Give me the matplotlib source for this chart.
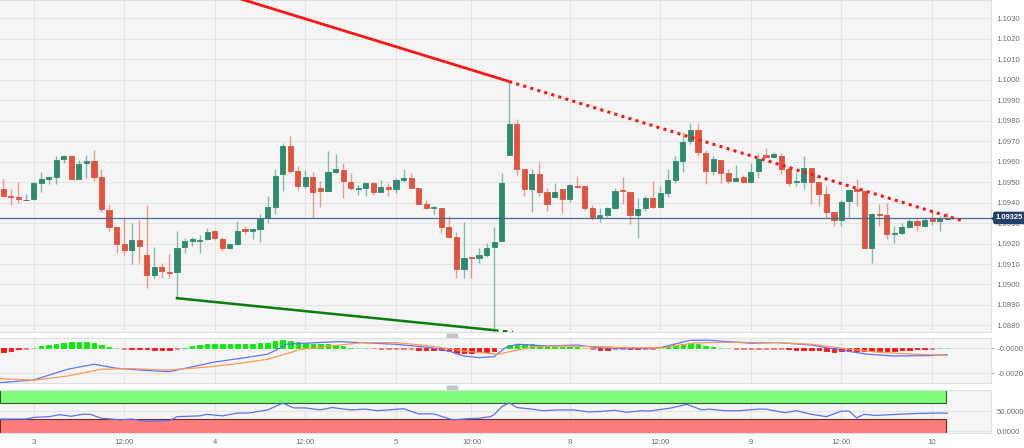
import numpy as np
import matplotlib
matplotlib.use('Agg')
import matplotlib.pyplot as plt
from matplotlib.patches import Rectangle, FancyBboxPatch

plt.rcParams['font.family'] = ['Liberation Sans', 'DejaVu Sans']

# hourly EUR/USD candles
opens = [1.09465, 1.09432, 1.09429, 1.09414, 1.09416, 1.09494, 1.09515, 1.09526, 1.09611, 1.09628,
         1.09514, 1.09592, 1.09605, 1.09526, 1.09364, 1.09279, 1.09197, 1.09168, 1.09217, 1.09144,
         1.09046, 1.09083, 1.09062, 1.09059, 1.09181, 1.09213, 1.09211, 1.09220, 1.09261, 1.09223,
         1.09179, 1.09197, 1.09269, 1.09262, 1.09269, 1.09323, 1.09377, 1.09538, 1.09677, 1.09556,
         1.09481, 1.09523, 1.09470, 1.09456, 1.09551, 1.09559, 1.09502, 1.09468, 1.09473, 1.09494,
         1.09453, 1.09475, 1.09466, 1.09510, 1.09519, 1.09470, 1.09393, 1.09375, 1.09372, 1.09279,
         1.09233, 1.09078, 1.09135, 1.09127, 1.09144, 1.09181, 1.09213, 1.09633, 1.09783, 1.09563,
         1.09465, 1.09540, 1.09453, 1.09429, 1.09465, 1.09417, 1.09482, 1.09481, 1.09372, 1.09331,
         1.09339, 1.09372, 1.09461, 1.09453, 1.09339, 1.09372, 1.09424, 1.09380, 1.09448, 1.09510,
         1.09603, 1.09701, 1.09755, 1.09644, 1.09556, 1.09608, 1.09546, 1.09505, 1.09523, 1.09499,
         1.09554, 1.09633, 1.09621, 1.09628, 1.09563, 1.09499, 1.09499, 1.09567, 1.09499, 1.09442,
         1.09355, 1.09315, 1.09408, 1.09466, 1.09458, 1.09179, 1.09344, 1.09339, 1.09245, 1.09253,
         1.09279, 1.09311, 1.09285, 1.09318, 1.09310, 1.09322]
highs = [1.09514, 1.09466, 1.09499, 1.09440, 1.09502, 1.09548, 1.09530, 1.09628, 1.09633, 1.09630,
         1.09608, 1.09633, 1.09657, 1.09563, 1.09393, 1.09279, 1.09323, 1.09301, 1.09315, 1.09388,
         1.09181, 1.09103, 1.09148, 1.09261, 1.09225, 1.09233, 1.09241, 1.09274, 1.09266, 1.09233,
         1.09201, 1.09310, 1.09285, 1.09274, 1.09344, 1.09432, 1.09563, 1.09690, 1.09725, 1.09579,
         1.09559, 1.09551, 1.09505, 1.09654, 1.09637, 1.09595, 1.09543, 1.09486, 1.09497, 1.09502,
         1.09510, 1.09494, 1.09519, 1.09563, 1.09543, 1.09470, 1.09412, 1.09383, 1.09372, 1.09334,
         1.09257, 1.09306, 1.09135, 1.09176, 1.09204, 1.09282, 1.09546, 1.09991, 1.09807, 1.09563,
         1.09563, 1.09600, 1.09470, 1.09494, 1.09465, 1.09491, 1.09531, 1.09481, 1.09388, 1.09372,
         1.09377, 1.09470, 1.09523, 1.09453, 1.09421, 1.09432, 1.09507, 1.09481, 1.09563, 1.09628,
         1.09746, 1.09790, 1.09790, 1.09657, 1.09628, 1.09608, 1.09563, 1.09584, 1.09535, 1.09595,
         1.09641, 1.09665, 1.09649, 1.09641, 1.09579, 1.09551, 1.09629, 1.09567, 1.09499, 1.09481,
         1.09355, 1.09412, 1.09465, 1.09514, 1.09458, 1.09350, 1.09391, 1.09396, 1.09285, 1.09299,
         1.09318, 1.09318, 1.09326, 1.09364, 1.09334, 1.09352]
lows = [1.09426, 1.09388, 1.09399, 1.09412, 1.09412, 1.09453, 1.09489, 1.09489, 1.09592, 1.09514,
        1.09514, 1.09519, 1.09505, 1.09355, 1.09262, 1.09155, 1.09144, 1.09100, 1.09103, 1.08981,
        1.09030, 1.09034, 1.09034, 1.08933, 1.09152, 1.09188, 1.09155, 1.09217, 1.09217, 1.09165,
        1.09171, 1.09192, 1.09246, 1.09220, 1.09209, 1.09299, 1.09344, 1.09456, 1.09546, 1.09461,
        1.09470, 1.09323, 1.09380, 1.09456, 1.09543, 1.09421, 1.09461, 1.09437, 1.09432, 1.09437,
        1.09453, 1.09432, 1.09445, 1.09502, 1.09470, 1.09393, 1.09367, 1.09339, 1.09250, 1.09225,
        1.09034, 1.09030, 1.09034, 1.09103, 1.09135, 1.08777, 1.09213, 1.09633, 1.09531, 1.09432,
        1.09352, 1.09432, 1.09360, 1.09429, 1.09350, 1.09404, 1.09470, 1.09364, 1.09315, 1.09306,
        1.09328, 1.09367, 1.09393, 1.09295, 1.09228, 1.09360, 1.09372, 1.09377, 1.09429, 1.09494,
        1.09551, 1.09686, 1.09628, 1.09491, 1.09535, 1.09497, 1.09497, 1.09505, 1.09496, 1.09494,
        1.09519, 1.09619, 1.09616, 1.09540, 1.09481, 1.09482, 1.09465, 1.09393, 1.09383, 1.09323,
        1.09287, 1.09287, 1.09328, 1.09383, 1.09176, 1.09103, 1.09285, 1.09222, 1.09201, 1.09246,
        1.09274, 1.09261, 1.09282, 1.09290, 1.09261, 1.09318]
closes = [1.09432, 1.09429, 1.09416, 1.09414, 1.09494, 1.09514, 1.09523, 1.09608, 1.09628, 1.09514,
          1.09589, 1.09605, 1.09526, 1.09367, 1.09282, 1.09197, 1.09168, 1.09217, 1.09188, 1.09046,
          1.09083, 1.09067, 1.09057, 1.09179, 1.09213, 1.09222, 1.09217, 1.09257, 1.09225, 1.09179,
          1.09196, 1.09262, 1.09262, 1.09269, 1.09318, 1.09377, 1.09531, 1.09677, 1.09556, 1.09481,
          1.09523, 1.09453, 1.09456, 1.09551, 1.09563, 1.09505, 1.09470, 1.09473, 1.09494, 1.09450,
          1.09475, 1.09466, 1.09510, 1.09519, 1.09470, 1.09393, 1.09372, 1.09380, 1.09279, 1.09233,
          1.09078, 1.09127, 1.09129, 1.09144, 1.09176, 1.09209, 1.09494, 1.09783, 1.09563, 1.09465,
          1.09540, 1.09453, 1.09393, 1.09453, 1.09416, 1.09486, 1.09478, 1.09372, 1.09331, 1.09339,
          1.09372, 1.09456, 1.09455, 1.09339, 1.09368, 1.09421, 1.09380, 1.09445, 1.09510, 1.09603,
          1.09698, 1.09755, 1.09649, 1.09556, 1.09611, 1.09546, 1.09505, 1.09519, 1.09499, 1.09551,
          1.09611, 1.09624, 1.09636, 1.09563, 1.09497, 1.09505, 1.09567, 1.09499, 1.09442, 1.09355,
          1.09315, 1.09404, 1.09461, 1.09456, 1.09179, 1.09343, 1.09339, 1.09245, 1.09253, 1.09279,
          1.09311, 1.09290, 1.09315, 1.09311, 1.09326, 1.09325]
last_price = 1.09325

# bar index of the time labels
tick_pos = [4, 16, 28, 40, 52, 62, 75, 87, 99, 111, 123]
tick_lab = ['3', '12:00', '4', '12:00', '5', '10:00', '8', '12:00', '9', '12:00', '10']

# trend lines: (bar index, price)
res_x = [25, 67, 127]
res_y = [1.10467, 1.09991, 1.09311]
sup_x = [23, 65, 67.5]
sup_y = [1.08933, 1.08777, 1.08768]

# MACD panel
hist = np.array([-2.6, -2.4, -0.4, -0.2, 0.2, 1.6, 2.4, 3.6, 4.4, 5.0,
                 5.0, 5.0, 4.6, 2.6, 1.4, 0.2, -0.2, -0.4, -0.4, -0.6,
                 -1.2, -1.2, -1.2, -0.2, 0.4, 1.6, 2.4, 3.2, 3.2, 3.2,
                 3.2, 3.2, 3.2, 3.2, 4.0, 4.6, 6.2, 6.6, 6.2, 5.4,
                 4.6, 3.4, 3.2, 3.2, 2.6, 1.8, 0.4, 0.2, 0.2, -0.1,
                 -0.2, -0.2, -0.2, -0.2, -0.2, -1.4, -1.4, -1.6, -1.6, -2.4,
                 -3.4, -3.4, -3.4, -3.0, -2.6, -1.8, 0.2, 2.6, 3.2, 3.2,
                 3.2, 2.2, 1.6, 1.4, 1.0, 1.0, 0.8, 0.2, -0.2, -1.0,
                 -1.0, -0.3, -0.3, -0.8, -0.8, -0.2, -0.2, 0.2, 1.6, 2.4,
                 3.2, 4.0, 3.2, 1.8, 1.0, 0.3, 0.2, -0.2, -0.2, -0.3,
                 -0.3, -0.2, -0.2, -0.3, -0.5, -1.0, -1.0, -1.0, -1.6, -2.4,
                 -2.6, -2.4, -2.4, -2.4, -2.4, -2.4, -2.4, -2.4, -1.8, -1.4,
                 -1.0, -0.8, -0.6, -0.2, 0.2, 0.2]) * 1e-4
macd_x = [-0.4, 4, 8.5, 12, 15, 18.5, 22, 24.5, 28, 31.5, 35, 36.5, 37.5, 41.5, 44.5, 52, 56.5,
          59, 61, 63, 65, 66.5, 68, 72, 76, 78.5, 83, 87, 91, 93.5, 99, 102.5, 107, 111, 114.5,
          118, 122.5, 125]
macd_y = [-0.00275, -0.00254, -0.00168, -0.00128, -0.0016, -0.00176, -0.00187, -0.00155, -0.0011,
          -0.0008, -0.00048, -0.00003, 0.00032, 0.00045, 0.00053, 0.00032, 0.00005, -0.00022,
          -0.00062, -0.00075, -0.00067, 0.00005, 0.00032, 0.00018, 0.00026, 0.00005, -0.00003,
          0.00005, 0.00064, 0.00064, 0.0004, 0.00045, 0.00026, -0.00016, -0.00048, -0.00062,
          -0.00059, -0.00051]
sig_x = [-0.4, 4, 8.5, 13, 17, 21.5, 26, 30.5, 35, 39.5, 43.5, 47.5, 52, 56.5, 61, 65.5, 67.5,
         70, 74, 78.5, 83, 87.5, 91.5, 96, 102.5, 107, 111, 115.5, 120, 125]
sig_y = [-0.00243, -0.00256, -0.00222, -0.00168, -0.00163, -0.00176, -0.00155, -0.00128, -0.00088,
         -0.00008, 0.00018, 0.00045, 0.00045, 0.00018, -0.00022, -0.00048, -0.00022, 0.0001,
         0.00018, 0.00013, 0.00005, 0.00005, 0.00042, 0.00048, 0.00045, 0.00032, 0.0, -0.0003,
         -0.00046, -0.00056]

# RSI panel
rsi_x = [-0.4, 3, 4, 6, 7.5, 9, 10.5, 11.5, 13, 15.5, 17, 19, 22, 23, 26, 27, 29, 31, 32.5, 35,
         37, 38.5, 40, 42, 43.5, 46, 48, 49.5, 51, 53, 55, 57, 59.5, 61.5, 63, 64.5, 65, 66, 67,
         68, 70, 71.5, 73.5, 75.5, 77.5, 79, 81, 82.5, 84.5, 85.5, 88.5, 90.5, 92.5, 93.5, 95.5,
         97.5, 100, 101, 103.5, 105, 107, 109, 111, 112, 113, 114, 115.5, 118.5, 121, 123.5, 125]
rsi_y = [30, 30, 34, 36, 41, 37, 42, 42, 32, 28, 30, 24, 26, 36, 38, 42, 38, 45, 45, 53,
         70, 58, 58, 53, 59, 53, 55, 51, 53, 56, 43, 43, 28, 31, 32, 36, 41, 61, 71,
         59, 55, 51, 53, 53, 48, 49, 52, 47, 51, 50, 58, 67, 53, 55, 51,
         51, 55, 55, 46, 51, 42, 36, 50, 50, 33, 42, 39, 42, 44, 45, 45]

green = '#2b8a6f'
red = '#e0533f'
grey_txt = '#707070'
panel_bg = '#f5f5f5'
grid_c = '#e4e4e4'
edge_c = '#dcdee8'
fsize = 5.6

W, H = 1024, 448
fig = plt.figure(figsize=(W / 100, H / 100), dpi=100)


def panel(x0, y0, x1, y1):
    a = fig.add_axes([x0 / W, 1 - y1 / H, (x1 - x0) / W, (y1 - y0) / H])
    a.set_facecolor(panel_bg)
    for s in a.spines.values():
        s.set_color(edge_c)
        s.set_linewidth(0.8)
    a.spines['left'].set_visible(False)
    a.yaxis.tick_right()
    a.tick_params(axis='y', length=0, pad=4, labelsize=fsize, labelcolor=grey_txt)
    a.tick_params(axis='x', length=0, labelbottom=False)
    a.set_xlim(-0.44, 130.8)
    a.set_xticks(tick_pos)
    a.grid(True, color=grid_c, lw=0.8)
    a.set_axisbelow(True)
    return a


ax = panel(0, 0, 991, 332)
ax2 = panel(0, 338, 991, 383)
ax3 = panel(0, 390, 991, 433)

# candles
o, h, l, c = map(np.array, (opens, highs, lows, closes))
idx = np.arange(len(o))
cols = np.where(c > o, green, np.where(c < o, red, '#555555'))
ax.vlines(idx, l, h, colors=cols, lw=1.0, alpha=0.55, zorder=2)
ax.bar(idx, np.abs(c - o), bottom=np.minimum(o, c), width=0.68, color=cols,
       edgecolor=cols, linewidth=0.6, zorder=3)

ax.axhline(last_price, color='#4c6894', lw=0.9, zorder=4)

# trend lines
ax.plot(res_x[:2], res_y[:2], color='#ff1414', lw=2.0, zorder=5, solid_capstyle='butt')
ax.plot(res_x[1:], res_y[1:], color='#ff1414', lw=2.2, ls=(0, (1, 1.4)), zorder=5)
ax.plot(sup_x[:2], sup_y[:2], color='#0b7d0b', lw=1.8, zorder=5)
ax.plot(sup_x[1:], sup_y[1:], color='#0b7d0b', lw=1.6, ls=(0, (2, 2)), zorder=5)

ax.set_ylim(1.08768, 1.10389)
ax.set_yticks(np.arange(1.0880, 1.10305, 0.001))
ax.set_yticklabels([f'{v:.4f}' for v in np.arange(1.0880, 1.10305, 0.001)])

# current price tag
navy = '#223f69'
ax.plot([1.0035], [last_price], marker='<', ms=4.5, color=navy,
        transform=ax.get_yaxis_transform(), clip_on=False, zorder=6)
ax.text(1.005, last_price, f'{last_price:.5f}', transform=ax.get_yaxis_transform(),
        ha='left', va='center', fontsize=5.4, color='white', weight='bold', zorder=7,
        bbox=dict(boxstyle='round,pad=0.28,rounding_size=0.2', fc=navy, ec=navy))

# MACD
hc = np.where(hist >= 0, '#00ee00', '#ff1010')
alphas = np.where(np.abs(hist) < 0.35e-4, 0.45, 1.0)
for xi, hv, cc, al in zip(idx, hist, hc, alphas):
    ax2.bar(xi, hv, width=0.6, color=cc, edgecolor=cc, linewidth=0.6, alpha=al, zorder=3)
ax2.plot(macd_x, macd_y, color='#6273ff', lw=0.9, zorder=4)
ax2.plot(sig_x, sig_y, color='#ff9a52', lw=0.9, zorder=4)
ax2.set_ylim(-0.00278, 0.00082)
ax2.set_yticks([0.0, -0.002])
ax2.set_yticklabels(['-0.0000', '-0.0020'])
ax2.tick_params(axis='y', length=2.5, color='#b0b0b0', pad=2)

# RSI
band_end = 124.9
ax3.add_patch(Rectangle((-0.44, 70), band_end + 0.44, 40, fc='#80fb7c', ec='#2f5f2f', lw=0.8, zorder=2))
ax3.add_patch(Rectangle((-0.44, -10), band_end + 0.44, 40, fc='#fc7d7b', ec='#6e2d2d', lw=0.8, zorder=2))
ax3.plot(rsi_x, rsi_y, color='#5d70f0', lw=0.9, zorder=4)
ax3.set_ylim(-5, 103)
ax3.set_yticks([50, 0])
ax3.set_yticklabels(['50.0000', '0.0000'])
ax3.tick_params(axis='x', labelbottom=True, labelsize=fsize, labelcolor=grey_txt, pad=4)
ax3.set_xticklabels(tick_lab)

# panel resize handles
for yh in (333.5, 385.5):
    fig.add_artist(FancyBboxPatch((447 / W, 1 - (yh + 4) / H), 11 / W, 3.5 / H,
                                  boxstyle='round,pad=0', transform=fig.transFigure,
                                  fc='#c6c6c6', ec='#b5b5b5', lw=0.5))

fig.savefig('out.png', dpi=100, facecolor='white')
